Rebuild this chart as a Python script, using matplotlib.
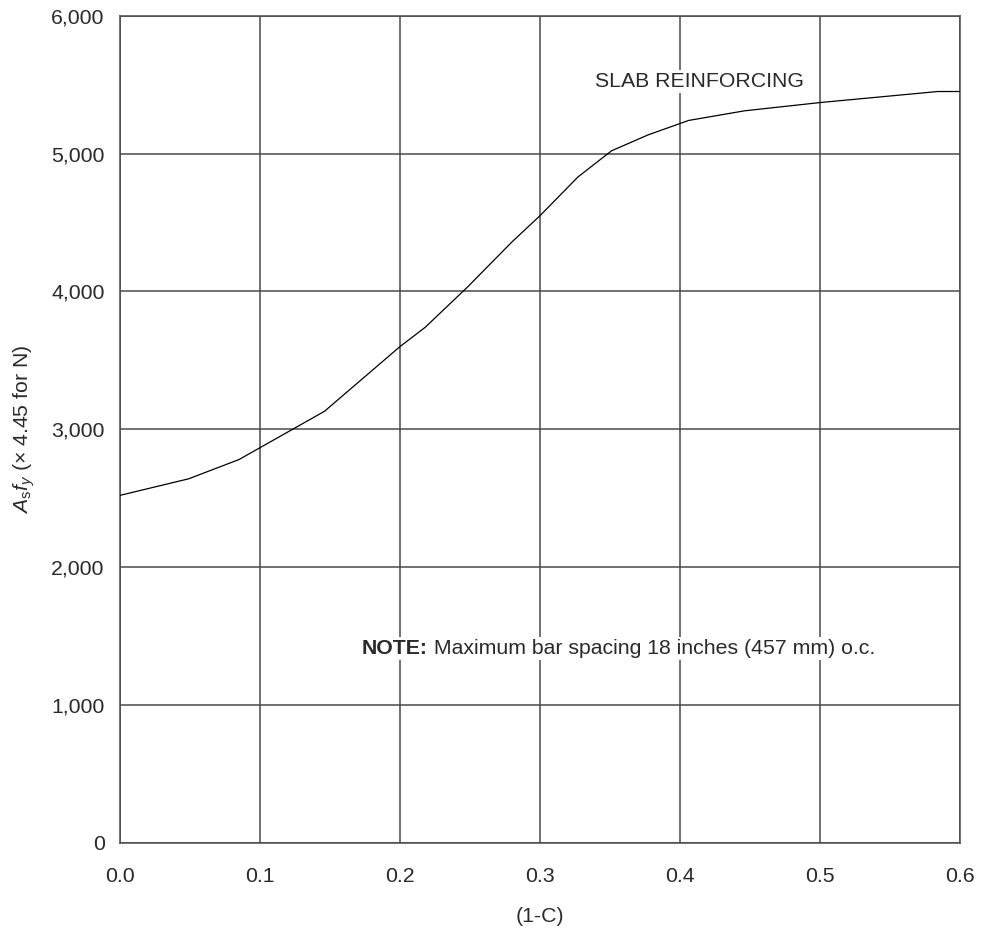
import matplotlib
matplotlib.use("Agg")
import matplotlib.pyplot as plt

plt.rcParams['font.family'] = ['Liberation Sans', 'DejaVu Sans']
plt.rcParams['mathtext.fontset'] = 'custom'
plt.rcParams['mathtext.rm'] = 'Liberation Sans'
plt.rcParams['mathtext.it'] = 'Liberation Sans:italic'

# curve: (1-C) vs As*fy
one_minus_c = [0.0, 0.049, 0.085, 0.146, 0.200, 0.218, 0.248, 0.280, 0.300,
               0.327, 0.351, 0.377, 0.406, 0.446, 0.500, 0.584, 0.600]
as_fy = [2520, 2640, 2780, 3130, 3600, 3740, 4030, 4360, 4550,
         4830, 5020, 5135, 5240, 5310, 5370, 5450, 5450]

x_ticks = [0.0, 0.1, 0.2, 0.3, 0.4, 0.5, 0.6]
y_ticks = [0, 1000, 2000, 3000, 4000, 5000, 6000]
x_labels = ['0.0', '0.1', '0.2', '0.3', '0.4', '0.5', '0.6']
y_labels = ['0', '1,000', '2,000', '3,000', '4,000', '5,000', '6,000']

GRID = '#4a4a4a'
TXT = '#2a2a2a'
FS = 15.3

fig = plt.figure(figsize=(9.82, 9.39), dpi=100)
ax = fig.add_axes([120/982, 1 - 842.7/939, 840.3/982, 827/939])

ax.plot(one_minus_c, as_fy, color='black', lw=0.9, zorder=3)

ax.set_xlim(0, 0.6)
ax.set_ylim(0, 6000)
ax.set_xticks(x_ticks)
ax.set_xticklabels(x_labels)
ax.set_yticks(y_ticks)
ax.set_yticklabels(y_labels)
ax.tick_params(axis='x', length=0, pad=17.5, labelsize=FS, labelcolor=TXT)
ax.tick_params(axis='y', length=0, pad=11, labelsize=FS, labelcolor=TXT)
ax.grid(True, color=GRID, lw=1.1)
for s in ax.spines.values():
    s.set_color(GRID)
    s.set_linewidth(1.1)

# annotations with white boxes that break the grid
ax.text(0.3395, 5520, 'SLAB REINFORCING', fontsize=FS, color=TXT,
        ha='left', va='center', zorder=4,
        bbox=dict(facecolor='white', edgecolor='none', pad=1.5))
note = ax.text(0.1725, 1410, 'NOTE:', fontsize=FS, fontweight='bold', color=TXT,
               ha='left', va='center', zorder=4,
               bbox=dict(facecolor='white', edgecolor='none', pad=1.5))
ax.annotate(' Maximum bar spacing 18 inches (457 mm) o.c.', xy=(1, 0),
            xycoords=note, ha='left', va='bottom', fontsize=FS, color=TXT,
            zorder=4, bbox=dict(facecolor='white', edgecolor='none', pad=1.5))

fig.text(24/982, 1 - 429/939, r'$A_{\mathrm{s}}f_y$ ($\times$ 4.45 for N)', rotation=90,
         ha='center', va='center', fontsize=FS, color=TXT)
fig.text(540/982, 1 - 917/939, '(1-C)', ha='center', va='center',
         fontsize=FS, color=TXT)

fig.savefig('out.png', dpi=100)
